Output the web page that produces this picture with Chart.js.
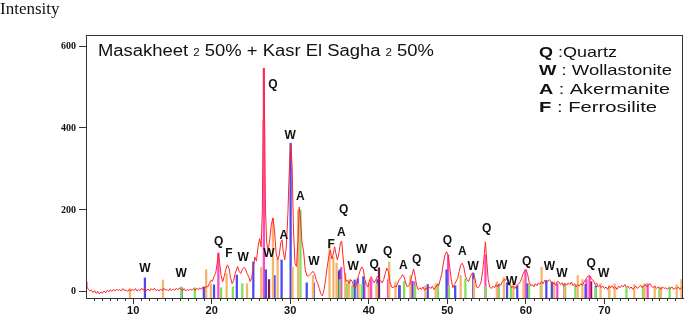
<!DOCTYPE html>
<html>
<head>
<meta charset="UTF-8">
<title>XRD pattern</title>
<script src="https://cdn.jsdelivr.net/npm/chart.js"></script>
<style>
  body { margin: 0; background: #fff; }
</style>
</head>
<body>
<canvas id="chart" width="685" height="315"></canvas>
<script>
// measured pattern (2 theta, counts)
var twoTheta = [
  4.0, 4.1, 4.3, 4.5, 4.7, 4.9, 5.1, 5.3, 5.5, 5.7, 5.9, 6.1, 6.3, 6.5, 6.7, 6.9, 7.1, 7.3, 7.5, 7.7, 7.9,
  8.1, 8.3, 8.5, 8.7, 8.9, 9.1, 9.3, 9.5, 9.7, 9.9, 10.1, 10.3, 10.5, 10.7, 10.9, 11.1, 11.3, 11.5, 11.7, 11.9,
  12.1, 12.3, 12.5, 12.7, 12.9, 13.1, 13.3, 13.5, 13.7, 13.9, 14.1, 14.3, 14.5, 14.7, 14.9, 15.1, 15.3, 15.5,
  15.7, 15.9, 16.1, 16.3, 16.5, 16.7, 16.9, 17.1, 17.3, 17.5, 17.7, 17.9, 18.1, 18.3, 18.5, 18.7, 18.9, 19.1,
  19.3, 19.5, 19.7, 19.9, 20.1, 20.3, 20.5, 20.7, 20.85, 21.0, 21.2, 21.4, 21.6, 21.8, 22.0, 22.2, 22.4, 22.6,
  22.8, 23.0, 23.3, 23.5, 23.7, 23.9, 24.1, 24.3, 24.5, 24.7, 24.9, 25.1, 25.3, 25.5, 25.7, 25.9, 26.1, 26.3,
  26.45, 26.55, 26.64, 26.75, 26.85, 27.0, 27.2, 27.4, 27.6, 27.8, 28.0, 28.2, 28.4, 28.6, 28.8, 28.95, 29.1,
  29.3, 29.5, 29.7, 29.85, 30.0, 30.1, 30.25, 30.4, 30.6, 30.8, 31.0, 31.15, 31.3, 31.5, 31.7, 31.9, 32.1,
  32.3, 32.5, 32.7, 32.9, 33.1, 33.3, 33.5, 33.7, 33.9, 34.1, 34.3, 34.5, 34.7, 34.9, 35.1, 35.3, 35.5, 35.65,
  35.8, 36.0, 36.2, 36.4, 36.55, 36.7, 36.9, 37.1, 37.3, 37.5, 37.7, 37.9, 38.1, 38.3, 38.5, 38.7, 38.9, 39.1,
  39.3, 39.5, 39.7, 39.9, 40.1, 40.3, 40.5, 40.7, 40.9, 41.1, 41.3, 41.5, 41.7, 41.9, 42.1, 42.3, 42.5, 42.7,
  42.9, 43.1, 43.3, 43.5, 43.7, 43.9, 44.1, 44.3, 44.5, 44.7, 44.9, 45.1, 45.3, 45.5, 45.7, 45.9, 46.1, 46.3,
  46.5, 46.7, 46.9, 47.1, 47.3, 47.5, 47.7, 47.9, 48.1, 48.3, 48.5, 48.7, 48.9, 49.1, 49.3, 49.5, 49.7, 49.9,
  50.1, 50.3, 50.5, 50.7, 50.9, 51.1, 51.3, 51.5, 51.7, 51.9, 52.1, 52.3, 52.5, 52.7, 52.9, 53.1, 53.3, 53.5,
  53.7, 53.9, 54.1, 54.3, 54.5, 54.7, 54.85, 55.0, 55.2, 55.4, 55.6, 55.8, 56.0, 56.2, 56.4, 56.6, 56.8, 57.0,
  57.2, 57.4, 57.6, 57.8, 58.0, 58.2, 58.4, 58.6, 58.8, 59.0, 59.2, 59.4, 59.6, 59.8, 60.0, 60.2, 60.4, 60.6,
  60.8, 61.0, 61.2, 61.4, 61.6, 61.8, 62.0, 62.2, 62.4, 62.6, 62.8, 63.0, 63.2, 63.4, 63.6, 63.8, 64.0, 64.2,
  64.4, 64.6, 64.8, 65.0, 65.2, 65.4, 65.6, 65.8, 66.0, 66.2, 66.4, 66.6, 66.8, 67.0, 67.2, 67.4, 67.6, 67.8,
  68.0, 68.2, 68.4, 68.6, 68.8, 69.0, 69.2, 69.4, 69.6, 69.8, 70.0, 70.2, 70.4, 70.6, 70.8, 71.0, 71.2, 71.4,
  71.6, 71.8, 72.0, 72.2, 72.4, 72.6, 72.8, 73.0, 73.2, 73.4, 73.6, 73.8, 74.0, 74.2, 74.4, 74.6, 74.8, 75.0,
  75.2, 75.4, 75.6, 75.8, 76.0, 76.2, 76.4, 76.6, 76.8, 77.0, 77.2, 77.4, 77.6, 77.8, 78.0, 78.2, 78.4, 78.6,
  78.8, 79.0, 79.2, 79.4, 79.6, 79.8, 80.0
];
var intensity = [
  25, 12, 6, 2, 4, -2, 3, -4, 1, -5, 0, -3, 2, -2, 4, 0, 5, 1, 6, 2, 7,
  3, 6, 2, 8, 3, 5, 1, 6, 2, 7, 3, 8, 2, 6, 3, 9, 4, 10, 3, 7,
  2, 8, 4, 9, 3, 6, 2, 7, 3, 9, 4, 6, 2, 8, 3, 7, 4, 9,
  5, 10, 6, 3, 8, 2, 6, 3, 7, 4, 8, 3, 9, 5, 10, 6, 12, 8,
  14, 12, 20, 28, 26, 38, 45, 70, 95, 72, 40, 25, 38, 55, 66, 58, 35, 20,
  28, 45, 62, 50, 45, 55, 60, 56, 45, 38, 25, 35, 60, 85, 75, 110, 130, 110,
  200, 420, 546, 400, 200, 120, 100, 130, 165, 180, 150, 95, 78, 90, 120, 127, 100,
  78, 110, 190, 280, 350, 360, 300, 160, 70, 62, 130, 207, 180, 120, 100, 55, 40,
  38, 42, 46, 50, 44, 30, 20, 8, -5, -10, 5, 30, 60, 85, 102, 80, 95, 110,
  95, 78, 95, 120, 124, 90, 50, 25, 28, 20, 30, 25, 12, 8, 25, 40, 52, 61,
  55, 30, 18, 12, 30, 37, 28, 22, 30, 38, 32, 28, 22, 30, 45, 58, 50, 25,
  12, 10, 15, 12, 22, 30, 35, 42, 36, 22, 12, 15, 25, 40, 56, 38, 15, 5,
  10, 6, 12, 4, 10, 6, 12, 8, 14, 6, 10, 18, 15, 30, 45, 70, 90, 98,
  90, 60, 30, 10, 18, 25, 32, 50, 65, 70, 60, 38, 30, 25, 35, 44, 46, 35,
  12, 10, 15, 25, 50, 90, 122, 80, 30, 12, 8, 14, 10, 18, 12, 20, 16, 25,
  30, 28, 34, 25, 15, 10, 14, 8, 15, 18, 22, 30, 42, 50, 54, 45, 25, 15,
  18, 12, 20, 15, 22, 18, 25, 20, 28, 22, 26, 30, 24, 18, 22, 16, 26, 24,
  18, 22, 14, 20, 16, 22, 18, 24, 15, 20, 12, 18, 14, 20, 16, 24, 30, 36,
  40, 38, 30, 28, 18, 22, 12, 16, 10, 14, 8, 12, 6, 14, 10, 15, 8, 12,
  6, 14, 10, 16, 12, 18, 10, 14, 8, 12, 6, 10, 14, 8, 12, 16, 10, 14,
  18, 12, 16, 20, 14, 10, 14, 8, 12, 10, 6, 12, 8, 10, 6, 10, 8, 12,
  6, 10, 8, 12, 6, 10, 8
];

// reference stick patterns
var blueX = [11.5, 16.2, 19.0, 20.3, 23.2, 25.3, 26.9, 28.0, 28.9, 30.05, 32.1, 33.0, 36.3, 38.2, 38.6, 39.3, 41.1, 43.9, 45.5, 47.5, 49.9, 51.0, 53.3, 56.5, 57.6, 58.9, 60.2, 62.6, 63.3, 64.9, 67.6, 68.9];
var blueY = [34, 10, 12, 17, 41, 73, 54, 40, 78, 363, 22, 22, 54, 29, 32, 37, 30, 15, 26, 18, 54, 15, 46, 18, 22, 15, 20, 28, 24, 20, 18, 15];
var orangeX = [9.6, 13.8, 19.3, 19.9, 21.9, 24.5, 26.3, 27.8, 28.4, 30.3, 31.0, 32.9, 35.0, 35.5, 35.9, 37.0, 37.5, 38.7, 40.0, 41.0, 42.6, 43.4, 45.3, 47.2, 48.5, 51.7, 53.4, 56.3, 57.2, 58.4, 59.7, 62.0, 63.6, 64.9, 66.6, 67.2, 69.5, 70.6, 71.3, 73.8, 75.1, 76.4, 77.2, 79.2, 79.8];
var orangeY = [8, 29, 54, 20, 45, 20, 60, 180, 80, 60, 200, 40, 120, 85, 70, 45, 30, 20, 20, 20, 73, 25, 40, 15, 20, 40, 30, 25, 35, 25, 30, 60, 25, 20, 40, 30, 20, 15, 20, 18, 20, 15, 12, 18, 30];
var greenX = [16.15, 17.85, 21.2, 22.7, 23.9, 31.3, 36.3, 37.2, 37.9, 39.1, 41.0, 44.5, 45.9, 48.8, 50.2, 52.3, 54.9, 56.5, 58.1, 60.4, 61.9, 65.0, 66.3, 68.9, 70.6, 72.8, 74.9, 77.0, 78.3];
var greenY = [12, 10, 10, 12, 20, 200, 30, 20, 15, 18, 15, 25, 15, 20, 15, 32, 12, 12, 15, 15, 15, 12, 15, 10, 12, 10, 15, 10, 12];
var pinkX = [20.85, 26.64, 36.5, 39.45, 40.3, 42.45, 45.8, 50.1, 54.85, 59.95, 64.0, 67.7, 68.1, 75.5];
var pinkY = [95, 546, 60, 25, 30, 30, 25, 90, 90, 54, 20, 30, 38, 20];
var maroonX = [27.3, 36.2, 41.3, 43.9, 68.3];
var maroonY = [30, 50, 59, 15, 25];

// phase letters over the peaks
var tagText = ['W', 'W', 'Q', 'F', 'W', 'W', 'Q', 'A', 'W', 'A', 'W', 'F', 'A', 'Q', 'W', 'W', 'Q', 'Q', 'A', 'Q', 'Q', 'A', 'W', 'Q', 'W', 'W', 'Q', 'W', 'W', 'Q', 'W'];
var tagX = [11.5, 16.1, 20.9, 22.2, 24.0, 27.3, 27.8, 29.2, 30.0, 31.3, 33.0, 35.2, 36.5, 36.8, 38.0, 39.1, 40.7, 42.4, 44.4, 46.1, 50.0, 51.9, 53.3, 55.0, 56.9, 58.2, 60.1, 63.0, 64.6, 68.3, 69.9];
var tagY = [56, 44, 122, 93, 83, 93, 505, 137, 380, 232, 73, 115, 144, 200, 61, 102, 66, 98, 63, 78, 124, 98, 61, 154, 63, 24, 73, 61, 44, 68, 44];

var legendKeys = ['Q', 'W', 'A', 'F'];
var legendNames = [' :Quartz', ' : Wollastonite', ' : Akermanite', ' : Ferrosilite'];

function pts(xs, ys) {
  return xs.map(function(x, i) { return { x: x, y: ys[i] }; });
}

function sticks(xs, ys, color) {
  return {
    type: 'bar',
    data: pts(xs, ys),
    backgroundColor: color,
    barThickness: 1.6,
    grouped: false,
    base: -15,
    order: 2
  };
}

// draws text runs squeezed/stretched into a given width
function fitRuns(ctx, runs, x, y, w) {
  var total = 0;
  runs.forEach(function(r) { ctx.font = r.font; r.w = ctx.measureText(r.text).width; total += r.w; });
  ctx.save();
  ctx.translate(x, y);
  ctx.scale(w / total, 1);
  var off = 0;
  runs.forEach(function(r) { ctx.font = r.font; ctx.fillText(r.text, off, 0); off += r.w; });
  ctx.restore();
}

var decor = {
  id: 'decor',
  afterDatasetsDraw: function(chart) {
    var ctx = chart.ctx, a = chart.chartArea;
    var xs = chart.scales.x, ys = chart.scales.y;
    ctx.save();
    // phase letters
    ctx.fillStyle = '#111';
    ctx.font = 'bold 12px "Liberation Sans"';
    ctx.textAlign = 'center';
    ctx.textBaseline = 'middle';
    tagText.forEach(function(t, i) {
      ctx.fillText(t, xs.getPixelForValue(tagX[i]), ys.getPixelForValue(tagY[i]));
    });
    ctx.restore();
  },
  afterDraw: function(chart) {
    var ctx = chart.ctx, a = chart.chartArea;
    var xs = chart.scales.x;
    ctx.save();
    // frame
    ctx.strokeStyle = '#333';
    ctx.lineWidth = 1;
    ctx.strokeRect(a.left + 0.5, a.top + 0.5, a.right - a.left - 1, a.bottom - a.top);
    // minor ticks
    ctx.beginPath();
    for (var v = 5; v < 80; v++) {
      if (v % 10 === 0) continue;
      var px = Math.round(xs.getPixelForValue(v)) + 0.5;
      ctx.moveTo(px, a.bottom);
      ctx.lineTo(px, a.bottom + 3);
    }
    ctx.stroke();
    // axis title
    ctx.fillStyle = '#111';
    ctx.textAlign = 'left';
    ctx.textBaseline = 'alphabetic';
    ctx.font = '17px "Liberation Serif"';
    ctx.fillText('Intensity', 0, 14);
    // sample name
    var big = '16px "Liberation Sans"', small = '10px "Liberation Sans"';
    fitRuns(ctx, [
      { text: 'Masakheet ', font: big }, { text: '2', font: small },
      { text: ' 50% + Kasr El Sagha ', font: big }, { text: '2', font: small },
      { text: ' 50%', font: big }
    ], 98, 56, 336);
    // phase key
    var ends = [617, 672, 670, 657];
    legendKeys.forEach(function(k, i) {
      fitRuns(ctx, [
        { text: k, font: 'bold 15px "Liberation Sans"' },
        { text: legendNames[i], font: '15px "Liberation Sans"' }
      ], 539, 57 + i * 18.3, ends[i] - 539);
    });
    ctx.restore();
  }
};

new Chart(document.getElementById('chart'), {
  type: 'bar',
  data: {
    datasets: [
      {
        type: 'line',
        data: pts(twoTheta, intensity),
        borderColor: '#ff2626',
        borderWidth: 1,
        pointRadius: 0,
        tension: 0,
        fill: false,
        order: 0
      },
      sticks(orangeX, orangeY, '#f8b46c'),
      sticks(greenX, greenY, '#7ee05c'),
      sticks(blueX, blueY, '#4a4af0'),
      sticks(pinkX, pinkY, '#ff48c8'),
      sticks(maroonX, maroonY, '#8c1446')
    ]
  },
  plugins: [decor],
  options: {
    responsive: false,
    animation: false,
    layout: { padding: { top: 35, right: 2, left: 0, bottom: 0 } },
    plugins: { legend: { display: false }, tooltip: { enabled: false } },
    scales: {
      x: {
        type: 'linear',
        min: 4,
        max: 80,
        offset: false,
        afterBuildTicks: function(s) { s.ticks = [10, 20, 30, 40, 50, 60, 70].map(function(v) { return { value: v }; }); },
        afterFit: function(s) { s.height = 17; },
        grid: { offset: false, drawOnChartArea: false, drawTicks: true, tickLength: 6, color: '#333' },
        border: { color: '#333' },
        ticks: { color: '#111', padding: 0, maxRotation: 0, autoSkip: false, font: { family: 'Liberation Sans', weight: 'bold', size: 11 } }
      },
      y: {
        min: -15,
        max: 627,
        afterBuildTicks: function(s) { s.ticks = [0, 200, 400, 600].map(function(v) { return { value: v }; }); },
        afterFit: function(s) { s.width = 86; },
        grid: { drawOnChartArea: false, drawTicks: true, tickLength: 7, color: '#333' },
        border: { color: '#333' },
        ticks: { color: '#111', padding: 3, font: { family: 'Liberation Serif', weight: 'bold', size: 10 } }
      }
    }
  }
});
</script>
</body>
</html>
